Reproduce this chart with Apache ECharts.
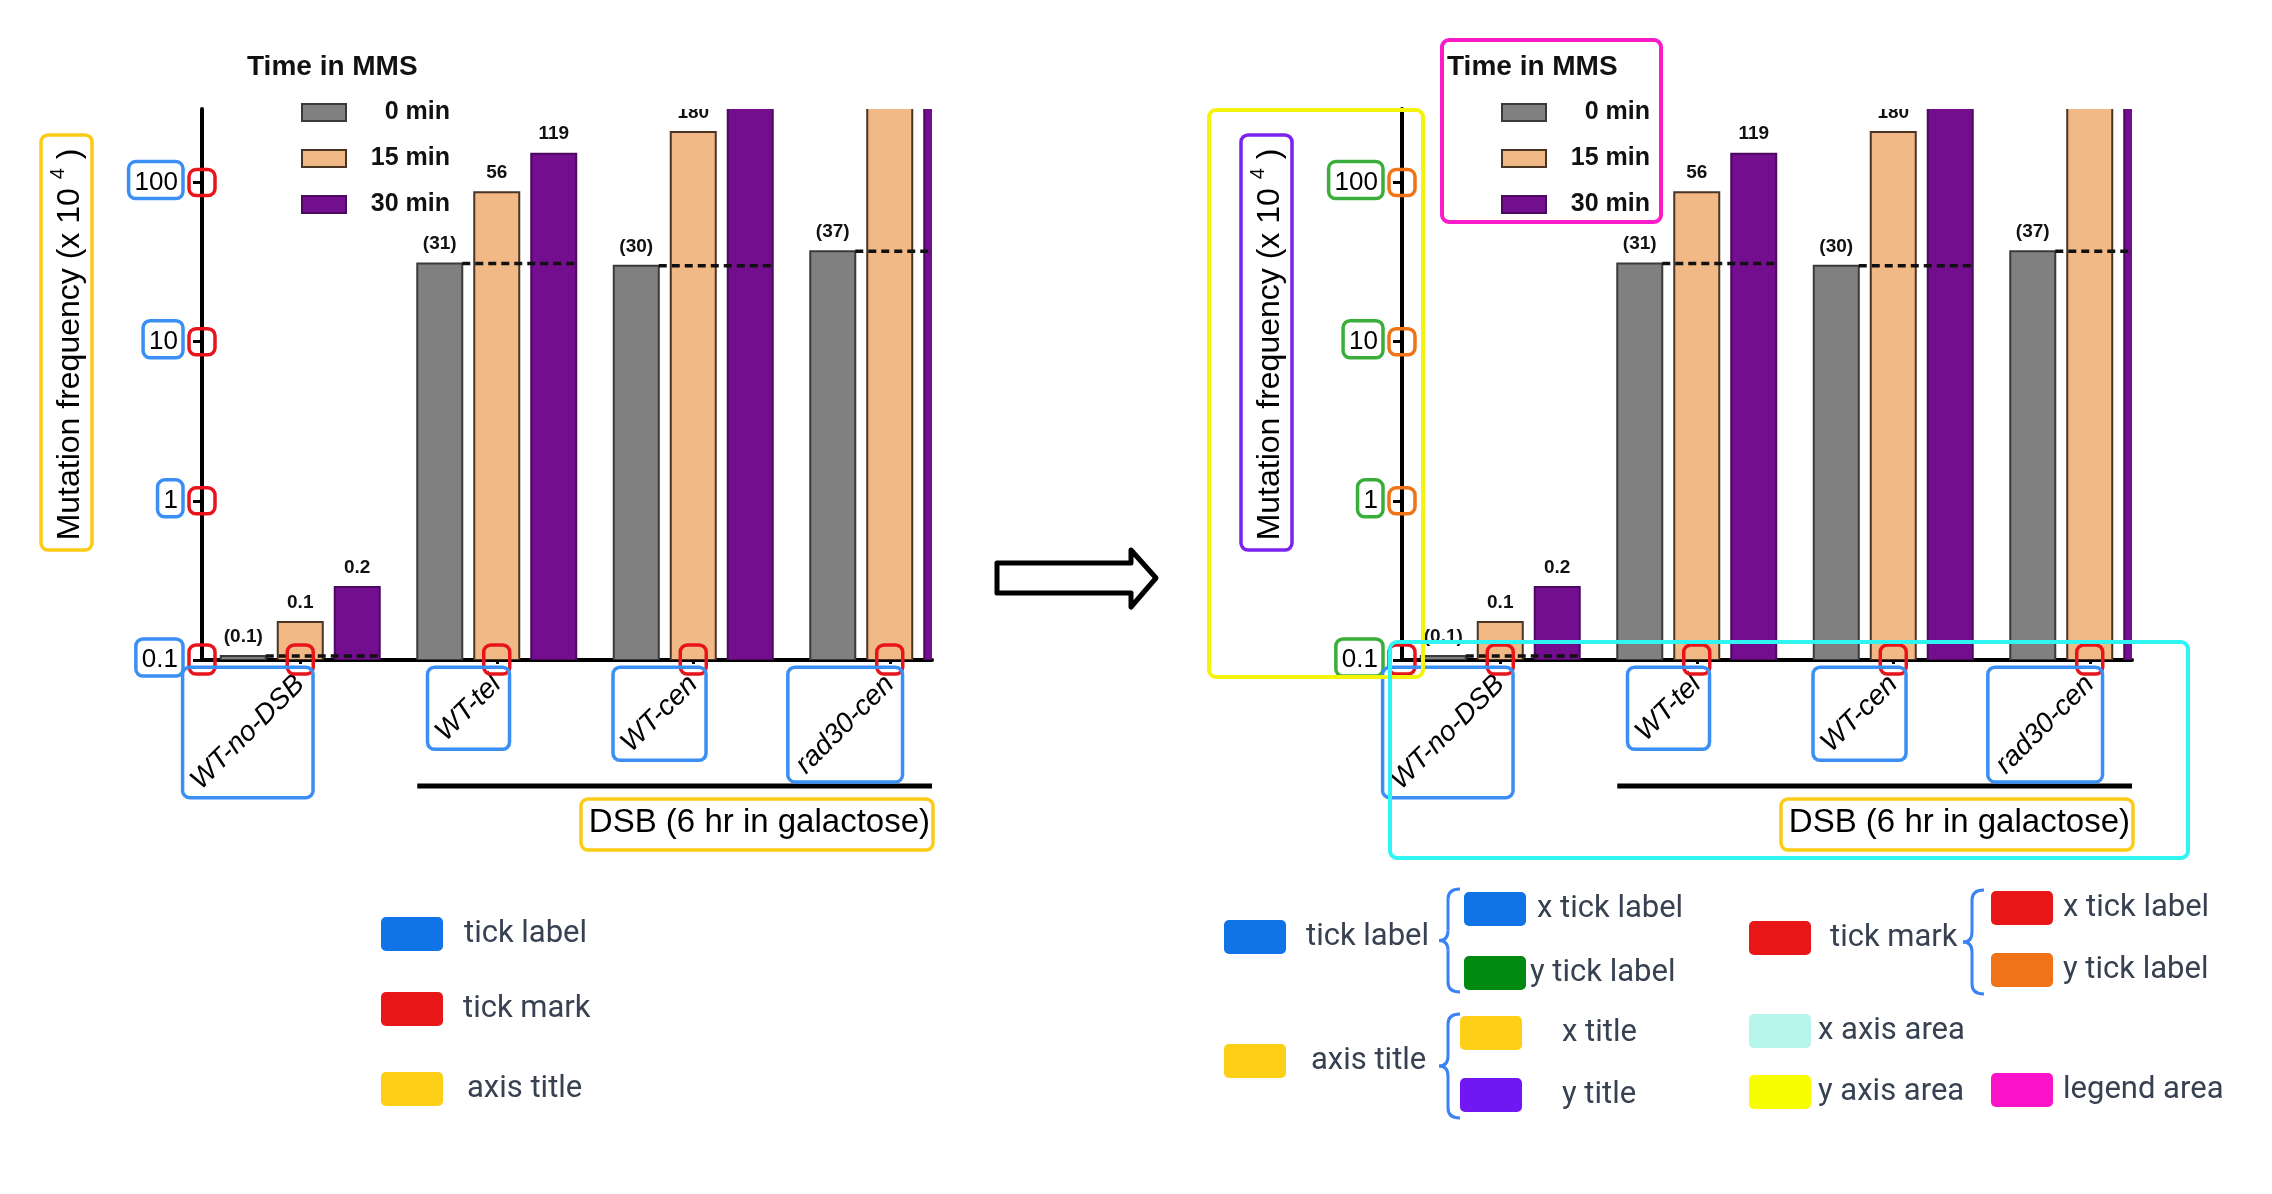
<!DOCTYPE html>
<html><head><meta charset="utf-8">
<script src="https://cdn.jsdelivr.net/npm/echarts@6/dist/echarts.min.js"></script>
<style>html,body{margin:0;padding:0;background:#fff}#c{width:2272px;height:1194px}</style>
</head><body><div id="c"></div>
<script>
// ---------------- data ----------------
const categories = ['WT-no-DSB', 'WT-tel', 'WT-cen', 'rad30-cen'];
const seriesNames = ['0 min', '15 min', '30 min'];
const values0  = [0.106, 31, 30, 37];
const values15 = [0.173, 87, 208, 330];
const values30 = [0.288, 152, 420, 450];
const labels0  = ['(0.1)', '(31)', '(30)', '(37)'];
const labels15 = ['0.1', '56', '180', ''];
const labels30 = ['0.2', '119', '', ''];
const yTicks = [0.1, 1, 10, 100];
const xAxisTitle = 'DSB (6 hr in galactose)';
const yAxisTitle = 'Mutation frequency (x 10 {sup|4} )';
const legendTitle = 'Time in MMS';
const keyLeft = ['tick label', 'tick mark', 'axis title'];
const keyRight = ['tick label', 'x tick label', 'y tick label', 'axis title', 'x title', 'y title',
                  'tick mark', 'x tick label', 'y tick label', 'x axis area', 'y axis area', 'legend area'];

// ---------------- style ----------------
const FONT = '"Liberation Sans", Arial, sans-serif';
const COLORS = ['#808080', '#f0b985', '#730e8e'];
const BORDERS = ['#3a3a3a', '#4a3423', '#4d0861'];
const LEFTS = [202, 1402];
const GRID_TOP = 109, GRID_H = 551, GRID_W = 730;
const X_MIN = -0.5, X_MAX = 3.215;
const BAR_STEP = 0.29, BAR_W = 0.229;
const Y_MIN = 0.1, Y_MAX = 290;
const fmtY = v => String(+(+v).toPrecision(3));
const isYTick = v => yTicks.some(t => Math.abs(Math.log10(v) - Math.log10(t)) < 1e-6);

const chart = echarts.init(document.getElementById('c'));

function barSeries(c, t) {
  const vals = [values0, values15, values30][t];
  const labs = [labels0, labels15, labels30][t];
  return {
    type: 'custom', name: seriesNames[t], xAxisIndex: c, yAxisIndex: c, clip: true,
    itemStyle: { color: COLORS[t], borderColor: BORDERS[t], borderWidth: 2 },
    data: vals.map((v, i) => [i, v]),
    encode: { x: 0, y: 1 },
    renderItem(params, api) {
      const i = api.value(0), v = api.value(1);
      const xc = i + (t - 1) * BAR_STEP;
      const top = api.coord([xc, v]);
      const bot = api.coord([xc, Y_MIN]);
      const w = api.size([BAR_W, 0], [xc, 1])[0];
      const children = [{
        type: 'rect',
        shape: { x: top[0] - w / 2, y: top[1], width: w, height: bot[1] - top[1] },
        style: { fill: COLORS[t], stroke: BORDERS[t], lineWidth: 2 }
      }];
      const lab = labs[i];
      if (lab) children.push({
        type: 'text',
        style: { text: lab, x: top[0], y: top[1] - 10, align: 'center', verticalAlign: 'bottom',
                 font: 'bold 19px ' + FONT, fill: '#111' }
      });
      return { type: 'group', children };
    }
  };
}
function refSeries(c) {
  return {
    type: 'custom', name: 'ref', xAxisIndex: c, yAxisIndex: c, clip: true, silent: true,
    data: values0.map((v, i) => [i, v]), encode: { x: 0, y: 1 },
    renderItem(params, api) {
      const i = api.value(0), v = api.value(1);
      const p1 = api.coord([i - BAR_STEP + BAR_W / 2, v]);
      const p2 = api.coord([i + BAR_STEP + BAR_W / 2, v]);
      return { type: 'line', shape: { x1: p1[0], y1: p1[1], x2: p2[0], y2: p2[1] },
               style: { stroke: '#111', lineWidth: 3.5, lineDash: [8, 5] } };
    }
  };
}

const idx = [0, 1];
const option = {
  animation: false,
  backgroundColor: '#fff',
  textStyle: { fontFamily: FONT },
  title: idx.map(c => ({
    text: legendTitle, left: LEFTS[c] + 40, top: 48,
    textStyle: { fontSize: 28, fontWeight: 'bold', color: '#111', fontFamily: FONT }
  })),
  legend: idx.map(c => ({
    orient: 'vertical', left: LEFTS[c] + 94, top: 95, itemWidth: 44, itemHeight: 17, itemGap: 21,
    icon: 'rect', selectedMode: false,
    data: seriesNames.map((n, t) => ({ name: n, itemStyle: { color: COLORS[t], borderColor: BORDERS[t], borderWidth: 2 } })),
    formatter: '{a|{name}}',
    textStyle: { rich: { a: { width: 99, align: 'right', fontSize: 25, fontWeight: 'bold', lineHeight: 17, color: '#111', fontFamily: FONT } } }
  })),
  grid: idx.map(c => ({ left: LEFTS[c], top: GRID_TOP, width: GRID_W, height: GRID_H, containLabel: false, outerBoundsMode: 'none' })),
  xAxis: idx.map(c => ({
    type: 'value', gridIndex: c, min: X_MIN, max: X_MAX, interval: 0.5,
    axisLine: { show: true, onZero: false, lineStyle: { color: '#000', width: 4 } },
    axisTick: { show: true, customValues: [0, 1, 2, 3], length: 4, lineStyle: { color: '#000', width: 3 } },
    axisLabel: {
      customValues: [0, 1, 2, 3], rotate: 45, margin: 20, fontSize: 28, fontStyle: 'italic', color: '#000', fontFamily: FONT,
      formatter: v => (Number.isInteger(v) ? (categories[v] || '') : '')
    },
    splitLine: { show: false },
    name: xAxisTitle, nameLocation: 'end', nameGap: -2, nameMoveOverlap: false,
    nameTextStyle: { fontSize: 33, color: '#000', fontFamily: FONT, align: 'right', verticalAlign: 'top', lineHeight: 36, padding: [145, 0, 0, 0] }
  })),
  yAxis: idx.map(c => ({
    type: 'log', logBase: 10, gridIndex: c, min: Y_MIN, max: Y_MAX,
    axisLine: { show: true, onZero: false, lineStyle: { color: '#000', width: 4 } },
    axisTick: { show: true, customValues: yTicks, length: 9, lineStyle: { color: '#000', width: 3 } },
    axisLabel: { customValues: yTicks, fontSize: 26, color: '#000', margin: 24, fontFamily: FONT,
                 formatter: v => (isYTick(v) ? fmtY(v) : '') },
    splitLine: { show: false }, minorTick: { show: false },
    name: yAxisTitle, nameLocation: 'middle', nameGap: 110, nameRotate: 90, nameMoveOverlap: false,
    nameTextStyle: { fontSize: 32, lineHeight: 44, color: '#000', fontFamily: FONT, padding: [0, 0, 0, 80],
                     rich: { sup: { fontSize: 20, lineHeight: 20, verticalAlign: 'top', fontFamily: FONT, color: '#000' } } }
  })),
  series: [].concat(...idx.map(c => [barSeries(c, 0), barSeries(c, 1), barSeries(c, 2), refSeries(c)]))
};
chart.setOption(option);

// ---------------- annotation overlay ----------------
const BLUE_BOX = '#3b8ef3', RED = '#e8141c', ORANGE = '#ef7317', GREEN_BOX = '#3aae3a',
      GOLD = '#fccb16', PURPLE_BOX = '#7a22f0', BYELLOW = '#f4f40b', CYAN = '#2ff5f2', MAGENTA = '#fb1bc9';
const ctx = document.createElement('canvas').getContext('2d');
function textW(font, s) { ctx.font = font; return ctx.measureText(s).width; }
function rbox(x1, y1, x2, y2, color, lw) {
  return { type: 'rect', z: 100, silent: true, shape: { x: x1, y: y1, width: x2 - x1, height: y2 - y1, r: 7 },
           style: { fill: 'none', stroke: color, lineWidth: lw || 3.5 } };
}
function swatch(x, y, color) {
  return { type: 'rect', z: 100, silent: true, shape: { x: x, y: y, width: 62, height: 34, r: 5 }, style: { fill: color } };
}
function keyText(x, y, text) {
  return { type: 'text', z: 100, silent: true,
           style: { text: text, x: x, y: y, fill: '#374151', font: '31px Roboto', align: 'left', verticalAlign: 'middle' } };
}
function brace(xr, y0, y1, color) {
  const xl = xr - 21, xm = xr - 12, ym = (y0 + y1) / 2, r = 10;
  const st = { fill: 'none', stroke: color, lineWidth: 3 };
  const q = (x1, y1, cx, cy, x2, y2) => ({ type: 'bezierCurve', z: 100, silent: true,
    shape: { x1: x1, y1: y1, x2: x2, y2: y2, cpx1: cx, cpy1: cy }, style: st });
  const l = (x1, y1, x2, y2) => ({ type: 'line', z: 100, silent: true, shape: { x1: x1, y1: y1, x2: x2, y2: y2 }, style: st });
  return [
    q(xr, y0, xm, y0, xm, y0 + r), l(xm, y0 + r, xm, ym - r), q(xm, ym - r, xm, ym, xl, ym),
    q(xl, ym, xm, ym, xm, ym + r), l(xm, ym + r, xm, y1 - r), q(xm, y1 - r, xm, y1, xr, y1)
  ];
}

const g = [];
idx.forEach(c => {
  const ax = chart.convertToPixel({ xAxisIndex: c }, X_MIN);
  const axR = chart.convertToPixel({ xAxisIndex: c }, X_MAX);
  const base = chart.convertToPixel({ yAxisIndex: c }, Y_MIN);
  const tickCol = c === 0 ? RED : ORANGE;
  const labCol = c === 0 ? BLUE_BOX : GREEN_BOX;
  yTicks.forEach((v, k) => {
    const py = chart.convertToPixel({ yAxisIndex: c }, v);
    const w = textW('26px ' + FONT, fmtY(v));
    g.push(rbox(ax - 24 - w - 6, py - 21, ax - 19, py + 16, labCol));
    if (k > 0) g.push(rbox(ax - 13, py - 13, ax + 13, py + 13, tickCol));
  });
  [X_MIN, 0, 1, 2, 3].forEach(v => {
    const px = chart.convertToPixel({ xAxisIndex: c }, v);
    g.push(rbox(px - 13, base - 15, px + 13, base + 14, RED));
  });
  categories.forEach((s, i) => {
    const px = chart.convertToPixel({ xAxisIndex: c }, i);
    const w = textW('italic 28px ' + FONT, s);
    const ay = base + 20, h = 22, k = 0.7071;
    g.push(rbox(px - k * (w + h / 2) - 5, ay - k * h / 2 - 5, px + k * h / 2 + 5, ay + k * (w + h / 2) + 5, BLUE_BOX));
  });
  g.push(rbox(axR - 351, 799, axR + 1, 850, GOLD));
  g.push(rbox(ax - 161, 135, ax - 110, 550, c === 0 ? GOLD : PURPLE_BOX));
  const bx = chart.convertToPixel({ xAxisIndex: c }, 1 - BAR_STEP - BAR_W / 2);
  g.push({ type: 'line', z: 50, silent: true, shape: { x1: bx, y1: 786, x2: axR, y2: 786 }, style: { stroke: '#000', lineWidth: 5 } });
  if (c === 1) {
    g.push(rbox(ax - 193, 110, ax + 21, 677, BYELLOW, 4));
    g.push(rbox(ax - 12, 642, ax + 786, 858, CYAN, 4));
    g.push(rbox(ax + 40, 40, ax + 259, 222, MAGENTA, 4));
  }
});
// arrow
g.push({ type: 'polygon', z: 100, silent: true,
  shape: { points: [[997, 563], [1131, 563], [1131, 550], [1156, 578], [1131, 607], [1131, 593], [997, 593]] },
  style: { fill: '#fff', stroke: '#000', lineWidth: 5, lineJoin: 'round' } });
// key left
g.push(swatch(381, 917, '#1073e6'), keyText(464, 934, keyLeft[0]));
g.push(swatch(381, 992, '#e81616'), keyText(463, 1009, keyLeft[1]));
g.push(swatch(381, 1072, '#fdcf16'), keyText(467, 1089, keyLeft[2]));
// key right
const BR = '#3b82f6';
g.push(swatch(1224, 920, '#1073e6'), keyText(1306, 937, keyRight[0]));
g.push(...brace(1460, 889, 992, BR));
g.push(swatch(1464, 892, '#1073e6'), keyText(1537, 909, keyRight[1]));
g.push(swatch(1464, 956, '#008a12'), keyText(1530, 973, keyRight[2]));
g.push(swatch(1224, 1044, '#fdcf16'), keyText(1311, 1061, keyRight[3]));
g.push(...brace(1460, 1014, 1118, BR));
g.push(swatch(1460, 1016, '#fdcf16'), keyText(1562, 1033, keyRight[4]));
g.push(swatch(1460, 1078, '#7117f3'), keyText(1562, 1095, keyRight[5]));
g.push(swatch(1749, 921, '#e81616'), keyText(1830, 938, keyRight[6]));
g.push(...brace(1984, 890, 994, BR));
g.push(swatch(1991, 891, '#e81616'), keyText(2063, 908, keyRight[7]));
g.push(swatch(1991, 953, '#f07319'), keyText(2063, 970, keyRight[8]));
g.push(swatch(1749, 1014, '#b5f5ec'), keyText(1818, 1031, keyRight[9]));
g.push(swatch(1749, 1075, '#f8fe00'), keyText(1818, 1092, keyRight[10]));
g.push(swatch(1991, 1073, '#fb12c9'), keyText(2063, 1090, keyRight[11]));

chart.setOption({ graphic: g });
</script></body></html>
